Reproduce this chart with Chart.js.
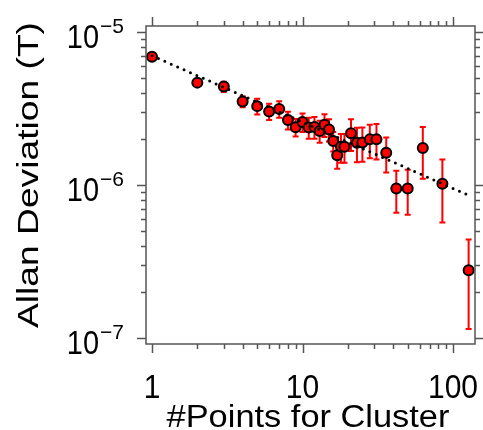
<!DOCTYPE html>
<html>
<head>
<meta charset="utf-8">
<script src="https://cdn.jsdelivr.net/npm/chart.js@4"></script>
<style>
  body { margin: 0; background: #fff; }
  #wrap { width: 483px; height: 430px; }
</style>
</head>
<body>
<div id="wrap"><canvas id="chart" width="483" height="430"></canvas></div>
<script>
// data
const clusterPoints = [1, 2, 3, 4, 5, 6, 7, 8, 9, 10, 11, 12, 13, 14, 15, 16, 17, 18, 19, 21, 23, 25, 28, 31, 36, 42, 50, 63, 85, 127];
const allanDev = [6.9e-6, 4.67e-6, 4.4e-6, 3.52e-6, 3.28e-6, 3.03e-6, 3.14e-6, 2.66e-6, 2.39e-6, 2.58e-6,
  2.38e-6, 2.4e-6, 2.26e-6, 2.48e-6, 2.31e-6, 1.94e-6, 1.57e-6, 1.78e-6, 1.78e-6, 2.18e-6,
  1.89e-6, 1.9e-6, 1.99e-6, 1.99e-6, 1.63e-6, 9.5e-7, 9.5e-7, 1.75e-6, 1.02e-6, 2.78e-7];
const allanErr = [1.0e-7, 1.0e-7, 3.4e-7, 2.9e-7, 3.9e-7, 3.7e-7, 3.9e-7, 3.5e-7, 3.1e-7, 3.6e-7,
  3.7e-7, 3.9e-7, 3.7e-7, 4.2e-7, 3.8e-7, 2.8e-7, 2.9e-7, 3.8e-7, 3.8e-7, 5.1e-7,
  4.8e-7, 4.8e-7, 4.9e-7, 5.2e-7, 4.2e-7, 2.9e-7, 3.1e-7, 6.5e-7, 4.5e-7, 1.63e-7];

// dotted fit line endpoints
const fitX = [1, 123];
const fitY = [7.0e-6, 8.7e-7];

// axes
const xRange = [0.912, 140];
const yRange = [9.18e-8, 1.094e-5];
const xTickValues = [1, 10, 100];
const xTickLabels = ["1", "10", "100"];
const yTickValues = [1e-5, 1e-6, 1e-7];
const yTickExps = ["\u22125", "\u22126", "\u22127"];

const FONT = "'Liberation Sans', Arial, sans-serif";

// text with separate horizontal / vertical stretch (the source glyphs are a bit tall)
function stretchedText(ctx, str, x, y, size, sx, sy, align) {
  ctx.save();
  ctx.translate(x, y);
  ctx.scale(sx, sy);
  ctx.font = size + "px " + FONT;
  ctx.textAlign = align;
  ctx.textBaseline = "alphabetic";
  ctx.fillText(str, 0, 0);
  ctx.restore();
}

// red error bars, drawn under the markers
const errorBars = {
  id: "errorBars",
  beforeDatasetsDraw(chart) {
    const ctx = chart.ctx;
    const x = chart.scales.x, y = chart.scales.y;
    ctx.save();
    ctx.strokeStyle = "#ff0000";
    ctx.lineWidth = 2;
    clusterPoints.forEach((n, i) => {
      const px = x.getPixelForValue(n);
      const top = y.getPixelForValue(allanDev[i] + allanErr[i]);
      const bot = y.getPixelForValue(allanDev[i] - allanErr[i]);
      ctx.beginPath();
      ctx.moveTo(px, top); ctx.lineTo(px, bot);
      ctx.moveTo(px - 3, top); ctx.lineTo(px + 3, top);
      ctx.moveTo(px - 3, bot); ctx.lineTo(px + 3, bot);
      ctx.stroke();
    });
    ctx.restore();
  }
};

// box, outward ticks on all sides, labels and titles
const frame = {
  id: "frame",
  afterDraw(chart) {
    const ctx = chart.ctx;
    const x = chart.scales.x, y = chart.scales.y, a = chart.chartArea;
    ctx.save();
    ctx.strokeStyle = "#555";
    ctx.lineWidth = 1.5;
    ctx.strokeRect(a.left, a.top, a.right - a.left, a.bottom - a.top);

    const logTicks = (lo, hi) => {
      const out = [];
      for (let e = Math.floor(Math.log10(lo)); e <= Math.ceil(Math.log10(hi)); e++) {
        for (let m = 1; m <= 9; m++) {
          const v = m * Math.pow(10, e);
          if (v >= lo && v <= hi) out.push({ v: v, major: m === 1 });
        }
      }
      return out;
    };

    ctx.beginPath();
    logTicks(xRange[0], xRange[1]).forEach((t) => {
      const px = Math.round(x.getPixelForValue(t.v)) + 0.5;
      const len = t.major ? 9 : 5;
      ctx.moveTo(px, a.bottom); ctx.lineTo(px, a.bottom + len);
      ctx.moveTo(px, a.top); ctx.lineTo(px, a.top - len);
    });
    logTicks(yRange[0], yRange[1]).forEach((t) => {
      const py = Math.round(y.getPixelForValue(t.v)) + 0.5;
      const len = t.major ? 9 : 5;
      ctx.moveTo(a.left, py); ctx.lineTo(a.left - len, py);
      ctx.moveTo(a.right, py); ctx.lineTo(a.right + len, py);
    });
    ctx.stroke();

    ctx.fillStyle = "#000";
    // x tick labels
    xTickValues.forEach((v, i) => {
      stretchedText(ctx, xTickLabels[i], x.getPixelForValue(v), 398, 30, 1, 1.09, "center");
    });

    // y tick labels: 10 with superscript exponent
    yTickValues.forEach((v, i) => {
      const py = y.getPixelForValue(v);
      ctx.font = "21px " + FONT;
      const supW = ctx.measureText(yTickExps[i]).width;
      ctx.font = "29px " + FONT;
      const baseW = ctx.measureText("10").width;
      const right = 124;
      stretchedText(ctx, "10", right - supW - baseW - 1, py + 16, 29, 1, 1.12, "left");
      stretchedText(ctx, yTickExps[i], right - supW, py + 1, 21, 1, 1.0, "left");
    });

    // axis titles
    stretchedText(ctx, "#Points for Cluster", 308, 427, 34.4, 1, 0.92, "center");
    ctx.save();
    ctx.translate(38, 175);
    ctx.rotate(-Math.PI / 2);
    stretchedText(ctx, "Allan Deviation (T)", 0, 0, 30, 1.24, 1, "center");
    ctx.restore();
    ctx.restore();
  }
};

new Chart(document.getElementById("chart"), {
  data: {
    datasets: [
      {
        type: "line",
        data: fitX.map((v, i) => ({ x: v, y: fitY[i] })),
        borderColor: "#000",
        borderWidth: 3,
        borderDash: [0, 7],
        borderCapStyle: "round",
        pointRadius: 0,
        order: 0
      },
      {
        type: "scatter",
        data: clusterPoints.map((v, i) => ({ x: v, y: allanDev[i] })),
        backgroundColor: "#ff0000",
        borderColor: "#000",
        pointRadius: 5,
        pointBorderWidth: 2,
        order: 1
      }
    ]
  },
  options: {
    responsive: false,
    devicePixelRatio: 1,
    animation: false,
    layout: { padding: { left: 146, right: 8, top: 26, bottom: 86 } },
    plugins: { legend: { display: false }, tooltip: { enabled: false } },
    scales: {
      x: { type: "logarithmic", display: false, min: xRange[0], max: xRange[1] },
      y: { type: "logarithmic", display: false, min: yRange[0], max: yRange[1] }
    }
  },
  plugins: [errorBars, frame]
});
</script>
</body>
</html>
